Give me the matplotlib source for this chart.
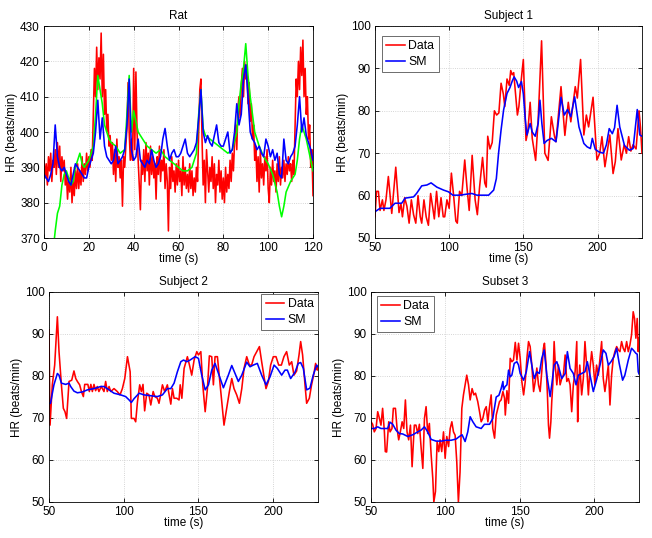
import numpy as np
import matplotlib
matplotlib.use("Agg")
import matplotlib.pyplot as plt

plt.rcParams['font.family'] = ['Liberation Sans', 'DejaVu Sans']

# ---------------- Rat ----------------
rat_red = [392, 387, 391, 385, 393, 389, 394, 386, 392, 390,
           395, 388, 397, 390, 396, 386, 393, 389, 392, 385,
           388, 381, 387, 383, 390, 380, 386, 382, 389, 384,
           391, 384, 389, 385, 393, 386, 391, 388, 394, 389,
           393, 390, 395, 392, 405, 418, 410, 424, 412, 421,
           415, 428, 410, 422, 405, 412, 400, 405, 396, 399,
           392, 397, 388, 395, 386, 398, 390, 393, 387, 392,
           379, 393, 390, 396, 401, 414, 400, 392, 398, 392,
           418, 395, 417, 400, 392, 385, 378, 392, 388, 395,
           386, 397, 389, 394, 385, 396, 388, 393, 387, 391,
           381, 393, 388, 396, 386, 392, 389, 395, 384, 391,
           386, 372, 390, 384, 393, 386, 389, 383, 391, 385,
           392, 386, 389, 382, 393, 385, 390, 384, 388, 383,
           391, 384, 389, 382, 387, 383, 390, 386, 400, 412,
           415, 398, 385, 392, 380, 395, 389, 383, 390, 386,
           393, 384, 391, 380, 388, 385, 392, 383, 389, 381,
           387, 380, 390, 383, 388, 384, 392, 386, 394, 389,
           397, 402, 395, 407, 410, 404, 413, 418, 410, 420,
           415, 419, 408, 414, 403, 408, 398, 402, 392, 396,
           386, 393, 383, 395, 387, 391, 385, 393, 389, 395,
           384, 380, 390, 385, 392, 386, 389, 383, 391, 386,
           393, 385, 390, 387, 392, 386, 391, 388, 393, 389,
           391, 386, 392, 388, 402, 415, 410, 420, 412, 424,
           416, 426, 410, 418, 405, 410, 398, 402, 390, 395,
           382]

rat_green_t = [4.5, 5, 6, 7, 8, 9, 10, 11, 12, 13, 14, 15, 16, 17, 18, 19, 20, 21, 22, 23,
               24, 25, 26, 27, 28, 29, 30, 32, 34, 36, 37, 38, 39, 40, 41, 42, 44, 46, 48, 50,
               52, 54, 56, 58, 60, 62, 64, 66, 68, 69, 70, 71, 72, 74, 76, 78, 80, 82, 84, 86,
               87, 88, 89, 90, 91, 92, 93, 94, 96, 98, 100, 102, 104, 105, 106, 107, 108, 110,
               112, 113, 114, 115, 116, 117, 118, 119, 120]
rat_green = [369, 372, 377, 379, 385, 388, 389, 387, 385, 386, 390, 392, 394, 391, 390, 391, 392, 394, 396, 405,
             416, 412, 408, 402, 400, 398, 397, 396, 394, 395, 405, 416, 400, 406, 403, 400, 398, 396, 395, 394,
             395, 393, 392, 391, 390, 389, 389, 390, 394, 405, 412, 401, 399, 398, 397, 396, 395, 394, 395, 400,
             408, 414, 418, 425, 416, 410, 405, 400, 396, 393, 391, 388, 383, 379, 376, 379, 383, 386,
             388, 392, 398, 402, 400, 398, 395, 392, 389]

rat_blue = [388, 387, 386, 388, 391, 402, 393, 390, 389, 390,
            388, 386, 385, 388, 391, 390, 389, 388, 387, 387,
            390, 392, 394, 400, 409, 398, 404, 396, 393, 392,
            391, 392, 396, 391, 392, 393, 395, 402, 415, 395,
            392, 393, 398, 392, 391, 390, 392, 391, 395, 392,
            390, 391, 393, 398, 401, 396, 392, 394, 395, 393,
            393, 394, 396, 398, 394, 393, 394, 395, 397, 404,
            412, 400, 397, 399, 397, 396, 399, 402, 397, 396,
            396, 398, 400, 394, 395, 400, 408, 402, 405, 415,
            419, 410, 400, 398, 397, 395, 396, 394, 393, 398,
            396, 393, 395, 392, 394, 388, 387, 398, 392, 391,
            393, 394, 396, 402, 410, 400, 404, 399, 397, 395,
            392]

# ---------------- Subject 1 ----------------
s1_data_t = [50, 51, 52.3, 53.4, 55, 56, 57.4, 59, 61.3, 64, 66.2, 67.5, 68.5, 70, 71.5, 73, 74.5, 76,
             77.5, 79, 80.5, 81.5, 83, 84.5, 86, 87.5, 89, 90, 91.5, 93, 94.5, 96, 97, 98.5, 100,
             101.5, 103, 104.5, 105.5, 107, 108.5, 110.5, 112, 113.5, 115.5, 117.5, 119, 120.5,
             122.5, 124, 125, 126, 127.5, 129, 130.5, 132, 133.5, 135, 136.5, 137.5, 139, 140.5,
             141.5, 142.5, 143.5, 145, 146, 147, 148.5, 150, 151.8, 153, 154.6, 156, 158.3, 160,
             162.3, 164.5, 166.7, 168.9, 171, 172, 175.4, 178, 180.3, 182, 185, 186.4, 188.6,
             190.8, 192.5, 194, 197, 199.6, 201.5, 203, 205, 208.3, 210.5, 212, 213.8, 216, 218,
             219.5, 221, 222.5, 224, 226, 228, 229, 230]
s1_data = [55, 61, 61, 56.5, 59, 56.5, 59, 64.5, 55.8, 66.7, 56, 58, 55, 59.5, 57.5, 53.5, 59, 55.5,
           53.5, 60, 55, 53.5, 59, 55, 53, 60.5, 57, 54.5, 61, 55, 59.5, 55, 55, 59, 57,
           65.3, 60, 54, 53.5, 61, 60, 68.4, 62, 56.5, 69.5, 59, 55.5, 62,
           69, 63, 62, 74, 71, 72.5, 80, 79, 79.5, 86.5, 84, 81, 87.5, 86,
           89.5, 88.5, 89, 83, 79, 81, 87, 92.1, 73, 75, 82, 73.5, 68.3, 78,
           96.5, 70, 68.3, 78.6, 74, 72.7, 85.7, 74.2, 82, 77.4, 85.7, 83, 92.1,
           74.3, 79, 76.2, 83.2, 68.4, 70, 73.9, 66.8, 74.3, 65.2, 68, 75.8, 68.4, 72,
           70, 73.9, 70.5, 72, 71, 80, 76, 70]

s1_sm_t = [50, 53.4, 57, 60, 63.5, 68, 70.3, 76, 78, 81.5, 85, 87.8, 91.7, 96.2, 99.5, 102.5, 107.4,
           111, 115.3, 118.7, 126.6, 130, 131.8, 133.3, 135, 136.7, 139, 141, 142.5, 143.8, 145.5,
           146.8, 148.7, 150, 151.3, 152.4, 154.6, 156, 158, 160, 161.2, 162.5, 164, 166, 168.9,
           172, 173.5, 175.4, 177.6, 179.8, 182, 184.6, 187.5, 190.8, 193, 195.2, 196.5, 198.5,
           201, 204, 206, 207.9, 210, 211.5, 213.2, 215, 218.2, 221.5, 224, 226.8, 228.5, 230]
s1_sm = [56.2, 57, 57, 57, 58.2, 58.2, 59.4, 59.7, 60.5, 62.3, 62.5, 63, 62, 61.3, 60.9, 60.1, 60.1,
         60.3, 60.5, 60.1, 60.1, 61.3, 64, 70, 75.5, 80.2, 84.1, 85.5, 87, 88, 87,
         85.5, 86.9, 84, 78, 74.3, 77, 75, 74, 77, 82.5, 77, 72.3, 73, 73.5,
         72.7, 77, 83.2, 79, 80.3, 78.6, 83.3, 76.2, 72.3, 71.5, 71.1, 73.5, 70.9,
         70.3, 70, 72, 75.8, 74.6, 76, 81.3, 76.2, 71.8, 70.7, 71.1, 80.3, 74.3, 74]

# ---------------- Subject 2 ----------------
s2_data_t = [50, 50.7, 52.2, 53.8, 55.6, 56.7, 58.3, 59.6, 60.7, 61.8, 63.4, 65.2, 66.7, 67.9, 69, 70.5,
             71.7, 73, 73.9, 75, 76, 77, 78, 79, 80.1, 81.2, 82.3, 83.4, 85, 86.8, 87.9, 89, 90.2, 91.3,
             93.5, 95.7, 97.5, 99.1, 100.7, 102.5, 104.3, 105.1, 106.9, 108, 109.2, 110.7, 111.8,
             112.9, 114, 115.4, 116.9, 118.1, 119.7, 120.8, 122.5, 123.6, 124.7, 125.9, 127.4,
             129.2, 130.4, 131.5, 132.6, 133.7, 135.5, 137, 137.8, 138.9, 140.4, 142.6, 144, 145.5,
             147.1, 148.9, 150, 151.6, 152.9, 154.5, 156, 157.3, 158.9, 160, 161.1, 162.7, 164.5,
             165.6, 167.1, 168.9, 170.7, 172.3, 173.8, 175.6, 177.4, 179, 180.5, 182.3, 184.1, 185.6,
             187.2, 189, 190.8, 192.3, 193.9, 195.2, 196.8, 198.3, 200.1, 201.9, 203.7, 205.5, 207.2,
             209, 210.8, 212.4, 213.9, 215.7, 217.3, 218.4, 219.7, 221.3, 222.4, 224.2, 225.7, 227.3,
             228.4, 229.5, 230]
s2_data = [91, 68.3, 77.9, 82.6, 94.1, 85.8, 77.9, 72.3, 71.5, 69.9, 78.7, 79, 81.2, 79.4, 78.7, 77.9,
           76.3, 75.1, 78, 78, 78, 76.3, 78, 76.3, 78, 76.5, 77.5, 76.3, 77.5, 76.3, 78.7, 76.3, 77.5, 76.3,
           77, 76.3, 75.5, 77, 79.4, 84.6, 81, 69.9, 69.9, 69.1, 73.9, 77.9, 76.3,
           78, 71.7, 75.9, 75.5, 73.1, 76.3, 75.1, 74.7, 73.5, 75.5, 77.9, 76.3,
           77.9, 75.5, 73.3, 77, 74.7, 74.7, 74.3, 77.9, 74.7, 81.8, 84.6, 82.6, 80.2,
           83.8, 85.8, 85, 85.8, 77.9, 71.5, 77, 84.8, 84.6, 77.9, 84.6, 84.6, 77.9,
           73.9, 68.3, 72.3, 76.3, 79.4, 77, 75.5, 73.5, 77, 81.8, 84.6, 82.6, 82.6,
           84.6, 85.8, 87, 83.4, 79.8, 77, 78.7, 82.6, 84.6, 84.6, 82.6, 82.6, 84.6,
           85.8, 82.6, 83.4, 80.2, 81.2, 85, 88.2, 85, 77.9, 73.5, 74.7, 77.9, 80.6,
           83, 81.4, 82.2]

s2_sm_t = [50, 51, 53.3, 55.6, 56.7, 58.3, 61.2, 63.4, 64.5, 66.7, 69, 72.3, 75.7, 80.1, 84.6, 86.8,
           90.2, 93.5, 98, 101.3, 103.6, 105.1, 106.9, 110.3, 113.6, 118.1, 122.5, 125.9, 129.2,
           131.5, 133.7, 135.9, 138.2, 140, 142.2, 144.4, 147.8, 150, 152.2, 154.5, 156.7, 158.9,
           161.1, 163.4, 166.7, 170, 172.3, 174.5, 176.7, 179, 182.3, 184.5, 186.7, 189.4, 192.3,
           195.2, 197.9, 200.6, 202.8, 205.7, 207.9, 209.5, 211.7, 214.6, 216.8, 218.4, 220.2,
           222.4, 224.6, 226.8, 229.1, 230]
s2_sm = [73.5, 73.5, 77.9, 80.6, 80.2, 78.3, 78, 78.3, 77.5, 76.4, 76, 76.2, 76.7, 77, 77.5, 77.5,
         76.7, 75.9, 75.5, 75.1, 74.3, 73.7, 74.6, 75.9, 75.5, 75.3, 75.1, 75.5, 77,
         77, 78.3, 81, 83.4, 83.8, 83.4, 83.8, 84.6, 84.2, 80.2, 76.7, 77.9, 81.4,
         83, 80.6, 77.2, 80.2, 82.5, 80.6, 78.7, 80.2, 83.3, 82.2, 82.6, 83, 80.2,
         77.9, 79.8, 82.6, 81.8, 80.2, 81.4, 81.4, 79.4, 80.9, 83, 83.2, 81.8,
         76.7, 77.1, 80.2, 82.6, 82.2]

# ---------------- Subset 3 ----------------
s3_data_t = [50, 51.1, 52.2, 53.4, 54.5, 55.6, 56.7, 57.8, 59, 59.6, 60.5, 61.9, 62.8, 64.1, 65, 66.4,
             67.5, 68.6, 69.7, 70.9, 72, 73.1, 74.2, 75.3, 76.5, 77.6, 79.1, 80.2, 81.4, 82.5, 83.6,
             84.8, 85.9, 87, 88.1, 89.2, 90.4, 91.5, 92.2, 93.3, 94.4, 95.5, 96.4, 97.5, 98.7, 99.8,
             100.9, 102.1, 103.2, 104.3, 105.4, 106.5, 107.6, 108.7, 109.8, 111, 112.1, 113.2,
             114.3, 115.5, 116.6, 117.9, 119.1, 120.2, 121.7, 122.9, 124, 125.1, 126.3, 127.4,
             128.5, 129.6, 130.7, 131.8, 133, 134.1, 135.2, 136.3, 137.4, 138.6, 139.7, 140.2,
             141.3, 142.4, 143.5, 144.6, 145.7, 146.9, 148, 149.1, 150.2, 151.3, 152.5, 153.6,
             154.7, 155.8, 156.9, 158, 159.2, 160.3, 161.4, 162.5, 163.6, 164.7, 165.8, 166.5,
             167.6, 168.5, 169.2, 169.9, 170.8, 171.4, 172.1, 173, 173.9, 174.8, 175.9, 177,
             178.1, 179.2, 180.4, 181.5, 182.6, 183.7, 184.8, 185.9, 187.1, 188.2, 188.8, 189.5,
             190.2, 191.5, 192.6, 193.7, 194.8, 196, 197.1, 198.2, 199.3, 200.4, 201.5, 202.7,
             203.8, 204.9, 206, 207.1, 208.3, 209.4, 210.5, 211.6, 212.7, 213.8, 215, 216.1,
             217.2, 218.3, 219.4, 220.5, 221.7, 222.8, 223.9, 225, 226.1, 227, 227.9, 228.8,
             229.5, 230]
s3_data = [69.1, 68.5, 66.7, 67.5, 71.5, 70, 68.3, 72.3, 66.7, 62, 61.9, 69.1, 66.7, 67.5, 72.3, 72.3,
           67.5, 64.8, 66.7, 69.1, 67.5, 74.3, 66.7, 64.8, 68.3, 58.4, 68.3, 68.3, 66.3, 68.5, 63.2,
           58, 69.9, 72.7, 66.3, 68.7, 61.2, 55.6, 50, 52.5, 64.4, 62, 64.8, 62, 66.7, 60.4,
           65.6, 63.2, 67.5, 69.1, 66.7, 65.9, 59.6, 50, 57.1, 72.3, 75.5, 77.9,
           80.2, 77.9, 74.3, 77, 75.5, 75.9, 73.9, 71.5, 69.1, 69.9, 71.9, 72.7,
           69.1, 72.7, 75.5, 67.5, 65.2, 70.7, 72.3, 73.9, 74.3, 76.3, 74.7, 70.7,
           76.5, 73.5, 84.2, 83.4, 83.8, 88, 83.8, 87.8, 84.2, 78.7, 75.5, 78.7,
           84.2, 88.2, 87, 82.6, 76.3, 78.7, 81.9, 77.9, 76.3, 81.1, 86.6, 87.8,
           82.6, 75.5, 68.3, 65.2, 69.1, 73.9, 77.9, 88.2, 81.9, 77.9, 82.6, 77.9,
           79.4, 80.2, 85, 78.7, 79.4, 77.9, 71.5, 77.9, 81.1, 88.2, 69.1, 77.9,
           82.6, 75.5, 79.4, 88.2, 82.6, 75.5, 81.9, 85.8, 82.6, 77.9, 82.6, 80.2,
           84.2, 88.2, 79.4, 76.3, 79.4, 82.6, 73.1, 80.2, 84.2, 85.8, 87, 86.2,
           85.8, 88.2, 86.6, 85.8, 88.2, 85.8, 87.4, 89.8, 95.3, 93.7, 89, 93.7,
           85.8, 89]

s3_sm_t = [50, 52.2, 54.5, 56.7, 59, 61.2, 62.8, 64.6, 66.8, 69, 71.3, 74.7, 78, 81.4, 83.6, 85.9,
           88.1, 90.4, 93.7, 97.1, 100.4, 103.8, 107.2, 109.4, 111.2, 113.2, 115, 116.6, 118.4,
           120.6, 124, 126.2, 129.6, 131.8, 134.1, 135.9, 137.4, 138.6, 139, 140.1, 141.3,
           142.4, 143.5, 144.6, 146.2, 148, 149.1, 150.2, 152.5, 154.3, 156.5, 158, 159.6, 161.4,
           163.1, 164.7, 166.3, 168.1, 170.3, 171.4, 173, 174.8, 176.6, 178.1, 180.4, 181.9,
           183.7, 185.9, 187.7, 189.3, 191.5, 193.7, 195.3, 197.1, 199.3, 201.5, 203.8, 206,
           207.8, 209.4, 211.2, 213.2, 215, 216.7, 219, 220.5, 222.8, 225, 226.1, 227.9, 228.8,
           229.5, 230]
s3_sm = [67.5, 67.5, 67.9, 67.5, 67.5, 67.5, 69, 68.5, 67.1, 66.3, 66.2, 65.6, 66, 66.7, 67.1, 67.9,
         66.7, 64.9, 64.5, 64.5, 64.7, 64.7, 65, 65.6, 66, 64.4, 66.7, 70.3, 69.1,
         67.9, 67.5, 68.5, 68.5, 69.9, 75, 75.4, 77, 78.7, 76.7, 77.5, 77.9,
         81.4, 79.8, 80.2, 83, 83.4, 82.6, 80.6, 79, 81, 85.8, 82.6, 79.4, 81,
         80.6, 84.2, 86.2, 80.2, 75.1, 77.9, 82.6, 83.4, 81.4, 79.4, 80.6, 85.8,
         81.8, 80.6, 77.9, 80.2, 80.6, 81, 83.4, 80.2, 76.3, 79.1, 82.6, 86.2,
         85.4, 82.6, 83.4, 84.6, 86.6, 83, 79, 80.2, 83.8, 86.6, 86.2, 85.4, 85.2,
         81, 80.5]

RED = (1, 0, 0)
GREEN = (0, 1, 0)
BLUE = (0, 0, 1)
LW = 1.15
FS = 8.5


def style(ax, xlim, ylim, xticks, yticks, title):
    ax.set_xlim(*xlim)
    ax.set_ylim(*ylim)
    ax.set_xticks(xticks)
    ax.set_yticks(yticks)
    ax.grid(True, linestyle=':', color='#c8c8c8', linewidth=0.6)
    ax.set_axisbelow(True)
    ax.tick_params(direction='in', top=True, right=True, length=3, width=0.6,
                   labelsize=FS)
    ax.tick_params(axis='x', pad=3)
    ax.tick_params(axis='y', pad=3)
    for s in ax.spines.values():
        s.set_linewidth(0.6)
    ax.set_xlabel('time (s)', fontsize=FS, labelpad=-0.5)
    ax.set_ylabel('HR (beats/min)', fontsize=FS, labelpad=1.5)
    ax.set_title(title, fontsize=FS, pad=5)


def legend(ax, loc, anchor):
    leg = ax.legend(loc=loc, bbox_to_anchor=anchor, fontsize=FS + 0.3, fancybox=False,
                    framealpha=1, edgecolor='#555555', handlelength=1.5,
                    handletextpad=0.3, borderpad=0.35, labelspacing=0.3,
                    borderaxespad=0)
    leg.get_frame().set_linewidth(0.6)


fig = plt.figure(figsize=(6.52, 5.38), dpi=100)

ax1 = fig.add_axes([44 / 652, 1 - 238 / 538, 269 / 652, 212 / 538])
t_rat = np.linspace(0, 120, len(rat_red))
t_blue = np.linspace(0, 120, len(rat_blue))
ax1.plot(t_rat, rat_red, color=RED, lw=LW)
ax1.plot(rat_green_t, rat_green, color=GREEN, lw=LW)
ax1.plot(t_blue, rat_blue, color=BLUE, lw=LW)
style(ax1, (0, 120), (370, 430), range(0, 121, 20), range(370, 431, 10), 'Rat')

ax2 = fig.add_axes([375 / 652, 1 - 238 / 538, 267 / 652, 212 / 538])
ax2.plot(s1_data_t, s1_data, color=RED, lw=LW, label='Data')
ax2.plot(s1_sm_t, s1_sm, color=BLUE, lw=LW, label='SM')
style(ax2, (50, 230), (50, 100), [50, 100, 150, 200], range(50, 101, 10), 'Subject 1')
legend(ax2, 'upper left', (7 / 267, 1 - 10 / 212))

ax3 = fig.add_axes([49 / 652, 1 - 502 / 538, 269 / 652, 210 / 538])
ax3.plot(s2_data_t, s2_data, color=RED, lw=LW, label='Data')
ax3.plot(s2_sm_t, s2_sm, color=BLUE, lw=LW, label='SM')
style(ax3, (50, 230), (50, 100), [50, 100, 150, 200], range(50, 101, 10), 'Subject 2')
legend(ax3, 'upper right', (1, 1 - 2 / 210))

ax4 = fig.add_axes([371 / 652, 1 - 502 / 538, 268 / 652, 210 / 538])
ax4.plot(s3_data_t, s3_data, color=RED, lw=LW, label='Data')
ax4.plot(s3_sm_t, s3_sm, color=BLUE, lw=LW, label='SM')
style(ax4, (50, 230), (50, 100), [50, 100, 150, 200], range(50, 101, 10), 'Subset 3')
legend(ax4, 'upper left', (6 / 268, 1 - 4 / 210))

fig.savefig('out.png', dpi=100)
